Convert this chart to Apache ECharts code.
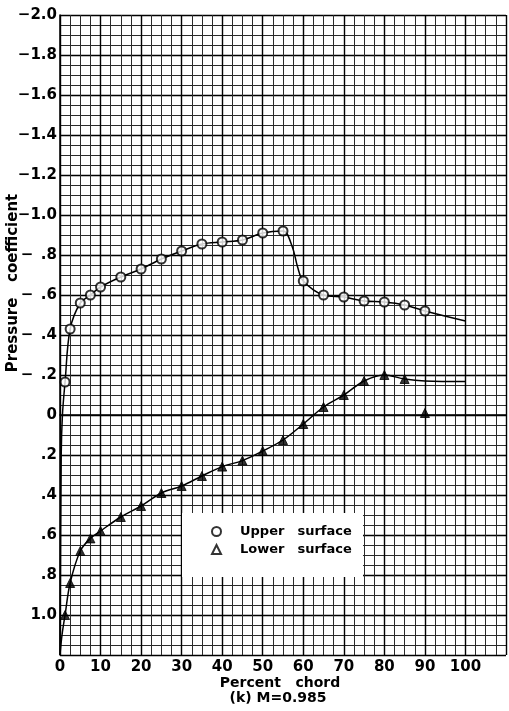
<!DOCTYPE html>
<html>
<head>
<meta charset="utf-8">
<script src="https://cdn.jsdelivr.net/npm/echarts@6/dist/echarts.min.js"></script>
<style>
  html, body { margin: 0; padding: 0; background: #fff; }
  #chart { width: 509px; height: 711px; }
</style>
</head>
<body>
<div id="chart"></div>
<script>
// tick positions, percent chord
var chordTicks = [0, 10, 20, 30, 40, 50, 60, 70, 80, 90, 100];

// measured orifice stations (percent chord)
var upperX = [1.25, 2.5, 5, 7.5, 10, 15, 20, 25, 30, 35, 40, 45, 50, 55, 60, 65, 70, 75, 80, 85, 90];
var upperCp = [-0.165, -0.43, -0.56, -0.60, -0.64, -0.69, -0.73, -0.78, -0.82, -0.855, -0.865, -0.875, -0.91, -0.92, -0.67, -0.60, -0.59, -0.57, -0.565, -0.55, -0.52];

var lowerX = [1.25, 2.5, 5, 7.5, 10, 15, 20, 25, 30, 35, 40, 45, 50, 55, 60, 65, 70, 75, 80, 85, 90];
var lowerCp = [1.0, 0.84, 0.68, 0.617, 0.58, 0.51, 0.455, 0.39, 0.355, 0.305, 0.258, 0.228, 0.18, 0.125, 0.045, -0.04, -0.10, -0.17, -0.20, -0.18, -0.01];

// faired curves as drawn on the figure
var upperFairX = [0, 0.3, 0.6, 1.25, 2.5, 5, 7.5, 10, 15, 20, 25, 30, 35, 40, 45, 50, 55, 57.3, 58.6, 60, 65, 70, 75, 80, 85, 90, 100];
var upperFairCp = [1.2, 0.2, 0.0, -0.165, -0.43, -0.56, -0.60, -0.64, -0.69, -0.73, -0.78, -0.82, -0.855, -0.865, -0.875, -0.91, -0.92, -0.84, -0.74, -0.67, -0.60, -0.59, -0.57, -0.565, -0.55, -0.52, -0.47];

var lowerFairX = [0, 0.5, 1.25, 2.5, 5, 7.5, 10, 15, 20, 25, 30, 35, 40, 45, 50, 55, 60, 65, 70, 75, 80, 85, 90, 100];
var lowerFairCp = [1.2, 1.1, 1.0, 0.84, 0.68, 0.617, 0.58, 0.51, 0.455, 0.39, 0.355, 0.305, 0.258, 0.228, 0.18, 0.125, 0.045, -0.04, -0.10, -0.17, -0.20, -0.18, -0.17, -0.167];

function pairs(xs, ys) {
  return xs.map(function (x, i) { return [x, ys[i]]; });
}

var font = 'DejaVu Sans';

function cpLabel(val) {
  var v = Math.round(val * 10) / 10;
  if (v > 1.05) return '';
  if (v === 0) return '0';
  if (v <= -1) return '\u2212' + Math.abs(v).toFixed(1);
  if (v < 0) return '{m|\u2212}' + Math.abs(v).toFixed(1).slice(1);
  if (v >= 1) return v.toFixed(1);
  return v.toFixed(1).slice(1);
}

var chart = echarts.init(document.getElementById('chart'));
chart.setOption({
  backgroundColor: '#fff',
  animation: false,
  grid: { left: 60, right: 1, top: 15, bottom: 56 },
  xAxis: {
    type: 'value',
    min: 0, max: 110, interval: 10,
    axisLine: { show: true, lineStyle: { color: '#000', width: 1.5 } },
    axisTick: { show: false },
    axisLabel: {
      margin: 5, color: '#000', fontFamily: font, fontSize: 15, fontWeight: 'bold',
      formatter: function (v) { return chordTicks.indexOf(v) >= 0 ? String(v) : ''; }
    },
    splitLine: { show: true, lineStyle: { color: '#000', width: 1.4 } },
    minorTick: { show: false, splitNumber: 4 },
    minorSplitLine: { show: true, lineStyle: { color: '#2a2a2a', width: 1 } }
  },
  yAxis: {
    type: 'value',
    inverse: true,
    min: -2.0, max: 1.2, interval: 0.2,
    axisLine: { show: true, lineStyle: { color: '#000', width: 1.5 } },
    axisTick: { show: false },
    axisLabel: {
      margin: 3, color: '#000', fontFamily: font, fontSize: 15, fontWeight: 'bold',
      formatter: cpLabel,
      rich: { m: { width: 20, align: 'left', fontFamily: font, fontSize: 15, fontWeight: 'bold', color: '#000' } }
    },
    splitLine: { show: true, lineStyle: { color: '#000', width: 1.4 } },
    minorTick: { show: false, splitNumber: 4 },
    minorSplitLine: { show: true, lineStyle: { color: '#2a2a2a', width: 1 } }
  },
  legend: {
    orient: 'vertical',
    left: 206, top: 520,
    itemWidth: 9, itemHeight: 9, itemGap: 5,
    z: 10,
    textStyle: { color: '#000', fontFamily: font, fontSize: 13, fontWeight: 'bold', padding: [0, 0, 0, 14] },
    formatter: function (n) { return n.replace(' ', '\u2002\u2002'); },
    data: [
      { name: 'Upper surface', icon: 'emptyCircle', itemStyle: { color: '#000', borderColor: '#000', borderWidth: 1.5 } },
      { name: 'Lower surface', icon: 'emptyTriangle', itemStyle: { color: '#000', borderColor: '#000', borderWidth: 1.5 } }
    ]
  },
  graphic: [
    { type: 'rect', z: 5, shape: { x: 182, y: 513, width: 181, height: 64 }, style: { fill: '#fff' } },
    { type: 'text', x: 280, y: 683, style: { text: 'Percent   chord', fill: '#000', font: 'bold 14px DejaVu Sans', align: 'center', verticalAlign: 'middle' } },
    { type: 'text', x: 278, y: 698, style: { text: '(k) M=0.985', fill: '#000', font: 'bold 14px DejaVu Sans', align: 'center', verticalAlign: 'middle' } },
    { type: 'text', x: 13, y: 283, rotation: Math.PI / 2, style: { text: 'Pressure   coefficient', fill: '#000', font: 'bold 15px DejaVu Sans', align: 'center', verticalAlign: 'middle' } }
  ],
  series: [
    {
      name: 'upper fair', type: 'line', smooth: 0.35, showSymbol: false, silent: true,
      lineStyle: { color: '#000', width: 1.5 }, z: 3,
      data: pairs(upperFairX, upperFairCp)
    },
    {
      name: 'lower fair', type: 'line', smooth: 0.35, showSymbol: false, silent: true,
      lineStyle: { color: '#000', width: 1.5 }, z: 3,
      data: pairs(lowerFairX, lowerFairCp)
    },
    {
      name: 'Upper surface', type: 'scatter', symbol: 'emptyCircle', symbolSize: 9, z: 4,
      itemStyle: { color: '#000', borderColor: '#000', borderWidth: 1.5 },
      data: pairs(upperX, upperCp)
    },
    {
      name: 'Lower surface', type: 'scatter', symbol: 'triangle', symbolSize: 9, z: 4,
      itemStyle: { color: '#000', borderColor: '#000', borderWidth: 1 },
      data: pairs(lowerX, lowerCp)
    }
  ]
});
</script>
</body>
</html>
